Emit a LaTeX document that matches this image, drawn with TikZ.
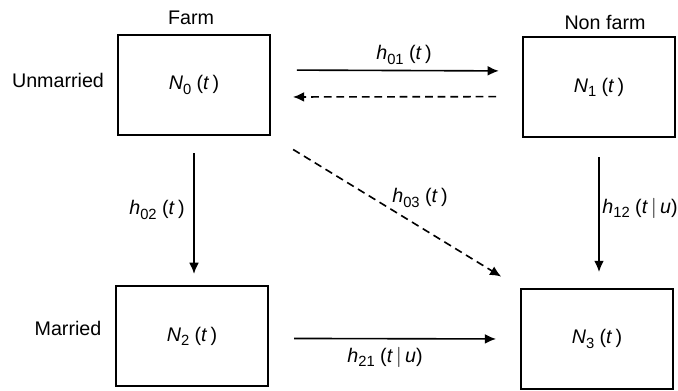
\documentclass[tikz,border=0pt]{standalone}
\usepackage{fontspec}
\setmainfont{Liberation Sans}
\usetikzlibrary{positioning, arrows.meta}
\newcommand{\lowidx}[1]{\raisebox{-0.4ex}{\fontsize{10.5}{12}\selectfont #1}}
\newcommand{\stock}[1]{\textit{N}\lowidx{#1}\ (\textit{t}\,)}
\newcommand{\hazard}[2]{\textit{h}\lowidx{#1}\ (\textit{t}\,#2)}

\begin{document}
\begin{tikzpicture}[x=0.025cm, y=-0.025cm,
    every node/.style={font=\fontsize{14}{16}\selectfont},
    state/.style={draw, line width=1.3pt, minimum width=3.8cm, minimum height=2.5cm},
    flow/.style={-{Latex[length=8pt, width=7pt]}, line width=1.15pt},
    back/.style={flow, dash pattern=on 5.5pt off 3.5pt}]
    \useasboundingbox (0,0) rectangle (678,390);

    % the four states
    \node[state] (n0) at (194,85) {\stock{0}};
    \node[state] (n1) at (599,87) {\stock{1}};
    \node[state] (n2) at (192,336) {\stock{2}};
    \node[state] (n3) at (597,339) {\stock{3}};

    % row and column headings
    \node (farm) at (191,18) {Farm};
    \node (nonfarm) at (605,22) {Non farm};
    \node (unmarried) at (58,80) {Unmarried};
    \node (married) at (68,328) {Married};

    % transitions
    \draw[flow, shorten <=0.65cm, shorten >=0.58cm]
        ([yshift=0.375cm]n0.east) -- ([yshift=0.4cm]n1.west);
    \draw[back, shorten <=0.65cm, shorten >=0.55cm]
        ([yshift=-0.24cm]n1.west) -- ([yshift=-0.3cm]n0.east);
    \draw[flow, shorten <=0.43cm, shorten >=0.28cm] (n0.south) -- (n0.south |- n2.north);
    \draw[flow, shorten <=0.48cm, shorten >=0.4cm] (n1.south) -- (n1.south |- n3.north);
    \draw[back, shorten <=0.65cm, shorten >=0.55cm] (n0.south east) -- (n3.north west);
    \draw[flow, shorten <=0.63cm, shorten >=0.6cm]
        ([yshift=-0.06cm]n2.east) -- (n3.west);

    % hazard labels
    \node (h01) at (404,55) {\hazard{01}{}};
    \node (h02) at (157,210) {\hazard{02}{}};
    \node (h03) at (420,198) {\hazard{03}{}};
    \node (h12) at (640,208) {\hazard{12}{$|$\,\textit{u}}};
    \node (h21) at (385,357) {\hazard{21}{$|$\,\textit{u}}};
\end{tikzpicture}
\end{document}
